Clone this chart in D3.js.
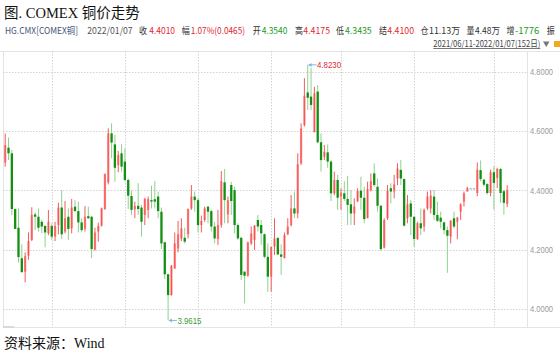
<!DOCTYPE html>
<html><head><meta charset="utf-8">
<script src="https://cdn.jsdelivr.net/npm/d3@7/dist/d3.min.js"></script>
<style>html,body{margin:0;padding:0;background:#fff;}svg{display:block;}</style>
</head><body>
<script>
// ---- data (COMEX copper daily OHLC, 2021/06/11 - 2022/01/07, 152 days) ----
const opens = [4.494,4.544,4.525,4.337,4.274,4.171,4.126,4.180,4.233,4.319,4.311,4.294,4.280,4.255,4.280,4.244,4.283,4.342,4.261,4.311,
4.272,4.345,4.330,4.292,4.270,4.313,4.311,4.200,4.261,4.281,4.337,4.427,4.592,4.555,4.485,4.525,4.497,4.435,4.381,4.336,
4.348,4.342,4.317,4.334,4.367,4.370,4.379,4.328,4.225,4.117,4.047,4.137,4.204,4.238,4.240,4.252,4.339,4.379,4.367,4.283,
4.300,4.345,4.330,4.278,4.236,4.283,4.427,4.319,4.418,4.401,4.283,4.240,4.126,4.112,4.221,4.233,4.300,4.283,4.252,4.176,
4.109,4.210,4.240,4.184,4.171,4.252,4.283,4.339,4.322,4.491,4.620,4.730,4.716,4.596,4.733,4.562,4.513,4.528,4.497,4.390,
4.435,4.379,4.390,4.371,4.353,4.322,4.362,4.399,4.375,4.306,4.401,4.457,4.412,4.348,4.207,4.306,4.407,4.396,4.440,4.469,
4.438,4.306,4.356,4.311,4.236,4.289,4.278,4.339,4.339,4.379,4.317,4.308,4.292,4.266,4.244,4.306,4.294,4.328,4.362,4.396,
4.405,4.405,4.391,4.468,4.436,4.421,4.391,4.461,4.442,4.472,4.397,4.354];
const highs = [4.592,4.578,4.536,4.339,4.339,4.218,4.191,4.258,4.343,4.326,4.339,4.300,4.283,4.334,4.289,4.294,4.358,4.401,4.364,4.339,
4.371,4.367,4.362,4.306,4.347,4.345,4.313,4.274,4.291,4.342,4.457,4.609,4.626,4.587,4.533,4.556,4.542,4.440,4.399,4.362,
4.424,4.351,4.375,4.379,4.416,4.431,4.396,4.342,4.227,4.119,4.148,4.258,4.297,4.306,4.274,4.339,4.418,4.396,4.375,4.315,
4.345,4.348,4.334,4.294,4.334,4.465,4.472,4.379,4.429,4.412,4.289,4.244,4.126,4.227,4.278,4.283,4.317,4.300,4.255,4.221,
4.210,4.306,4.240,4.218,4.258,4.306,4.384,4.396,4.525,4.626,4.778,4.823,4.813,4.749,4.755,4.592,4.553,4.555,4.502,4.463,
4.452,4.407,4.431,4.449,4.401,4.373,4.407,4.446,4.412,4.429,4.457,4.491,4.440,4.351,4.306,4.418,4.424,4.452,4.491,4.502,
4.440,4.384,4.367,4.311,4.294,4.339,4.339,4.396,4.401,4.401,4.362,4.328,4.294,4.278,4.300,4.328,4.311,4.356,4.396,4.412,
4.406,4.406,4.494,4.501,4.438,4.424,4.470,4.481,4.476,4.476,4.402,4.4175];
const lows = [4.480,4.502,4.317,4.270,4.157,4.124,4.090,4.166,4.229,4.266,4.261,4.255,4.208,4.249,4.233,4.229,4.252,4.236,4.255,4.233,
4.255,4.328,4.258,4.258,4.261,4.303,4.171,4.197,4.227,4.278,4.334,4.420,4.508,4.429,4.461,4.463,4.431,4.337,4.317,4.306,
4.317,4.244,4.283,4.306,4.339,4.339,4.306,4.202,4.101,3.9615,4.045,4.135,4.191,4.229,4.221,4.238,4.334,4.328,4.258,4.258,
4.294,4.289,4.261,4.221,4.216,4.274,4.289,4.289,4.317,4.255,4.233,4.098,4.019,4.109,4.216,4.199,4.261,4.216,4.171,4.058,
4.058,4.182,4.182,4.115,4.171,4.249,4.278,4.306,4.306,4.485,4.615,4.671,4.671,4.596,4.558,4.463,4.502,4.476,4.364,4.384,
4.334,4.334,4.364,4.283,4.283,4.283,4.362,4.334,4.289,4.306,4.396,4.412,4.328,4.196,4.204,4.300,4.356,4.373,4.418,4.418,
4.278,4.289,4.249,4.210,4.233,4.249,4.261,4.334,4.322,4.300,4.294,4.272,4.252,4.122,4.221,4.272,4.235,4.300,4.345,4.396,
4.404,4.404,4.380,4.430,4.413,4.386,4.380,4.335,4.408,4.358,4.318,4.3435];
const closes = [4.553,4.525,4.337,4.270,4.175,4.124,4.178,4.229,4.317,4.311,4.274,4.278,4.258,4.294,4.244,4.280,4.342,4.252,4.306,4.270,
4.342,4.330,4.292,4.266,4.311,4.306,4.202,4.258,4.280,4.339,4.455,4.592,4.561,4.476,4.519,4.480,4.435,4.382,4.334,4.347,
4.337,4.294,4.371,4.370,4.362,4.362,4.330,4.221,4.117,4.047,4.146,4.221,4.252,4.272,4.227,4.337,4.379,4.367,4.283,4.297,
4.339,4.328,4.278,4.238,4.283,4.431,4.367,4.367,4.364,4.283,4.238,4.115,4.112,4.225,4.255,4.281,4.278,4.255,4.176,4.109,
4.210,4.238,4.184,4.176,4.249,4.278,4.339,4.322,4.488,4.609,4.719,4.712,4.688,4.727,4.562,4.502,4.530,4.497,4.390,4.435,
4.375,4.392,4.371,4.351,4.322,4.345,4.398,4.375,4.303,4.404,4.431,4.418,4.348,4.202,4.300,4.398,4.396,4.420,4.474,4.440,
4.281,4.353,4.311,4.236,4.289,4.272,4.334,4.379,4.382,4.317,4.297,4.294,4.266,4.247,4.297,4.278,4.308,4.353,4.390,4.407,
4.405,4.405,4.470,4.438,4.419,4.391,4.461,4.425,4.472,4.391,4.358,4.401];
const monthStartIdx = [14, 36, 58, 80, 101, 123, 147]; // first trading day of Jul..Jan
const yTicks = [4.0, 4.2, 4.4, 4.6, 4.8];
const hiIdx = 91, hiLabel = "4.8230";
const loIdx = 49, loLabel = "3.9615";

const titleText = "图. COMEX 铜价走势";
const sourceText = "资料来源：Wind";
const rangeText = "2021/06/11-2022/01/07(152日)";
// header quote strip: [text, x, width, kind]
const header = [
  ["HG.CMX[COMEX铜]", 5, 73, "name"], ["2022/01/07", 87.3, 45.4, "date"],
  ["收", 139, 8, "lab"], ["4.4010", 149.3, 25.7, "up"],
  ["幅", 181.7, 8, "lab"], ["1.07%(0.0465)", 190.7, 54.3, "up"],
  ["开", 252.7, 8, "lab"], ["4.3540", 261.7, 25.6, "dn"],
  ["高", 295, 8, "lab"], ["4.4175", 303.3, 26.7, "up"],
  ["低", 336, 8, "lab"], ["4.3435", 345, 26.7, "dn"],
  ["结", 379, 8, "lab"], ["4.4100", 387.3, 26.7, "up"],
  ["仓", 420.5, 8, "lab"], ["11.13万", 429, 31, "lab"],
  ["量", 466.5, 8, "lab"], ["4.48万", 475, 25, "lab"],
  ["增", 506.5, 8, "lab"], ["-1776", 515, 24.3, "dn"],
  ["振", 546.7, 8, "lab"]
];

// ---- drawing ----
const W = 560, H = 356;
const plot = {left: 3, right: 527, top: 51, bottom: 327};
const svg = d3.select("body").append("svg").attr("width", W).attr("height", H);
svg.append("rect").attr("width", W).attr("height", H).attr("fill", "#fff");

const x = d3.scaleLinear().domain([0, opens.length - 1]).range([5.2, 507.2]);
const y = d3.scaleLinear().domain([4.0, 4.8]).range([309, 71.7]);

const UP = "#f04848", UPBODY = "#ff9090", DN = "#139013", DNWICK = "#8fd08f", FLAT = "#6fa3cf";
const sansCJK = "'Noto Sans CJK SC','Noto Sans',sans-serif";
const serifCJK = "'Liberation Serif','DejaVu Serif','Noto Sans CJK SC',serif";

// title
svg.append("text").attr("x", 4).attr("y", 18).attr("font-family", serifCJK)
  .attr("font-size", 14.5).attr("fill", "#111").text(titleText);

// header
const hColor = {name: "#3f5478", date: "#555", lab: "#333", up: "#e0282e", dn: "#1c9a1c"};
svg.append("g").selectAll("text").data(header).join("text")
  .attr("x", d => d[1]).attr("y", 34).attr("font-family", sansCJK).attr("font-size", 9.5)
  .attr("fill", d => hColor[d[3]]).attr("textLength", d => d[2]).attr("lengthAdjust", "spacingAndGlyphs")
  .text(d => d[0]);

// date range
svg.append("text").attr("x", 433.3).attr("y", 47).attr("font-family", sansCJK).attr("font-size", 9)
  .attr("fill", "#444").attr("textLength", 107).attr("lengthAdjust", "spacingAndGlyphs").text(rangeText);
svg.append("line").attr("x1", 433.3).attr("x2", 540.3).attr("y1", 48.5).attr("y2", 48.5)
  .attr("stroke", "#555").attr("stroke-width", 0.8);
svg.append("path").attr("d", "M543,41.5 L549.5,41.5 L546.25,47 Z").attr("fill", "#777");
svg.append("rect").attr("x", 554).attr("y", 41).attr("width", 6).attr("height", 6).attr("fill", "#f5a623");

// frame
const frame = svg.append("g").attr("stroke", "#e4e4e4").attr("stroke-width", 1).attr("shape-rendering", "crispEdges");
frame.append("line").attr("x1", 0).attr("x2", W).attr("y1", plot.top).attr("y2", plot.top);
frame.append("line").attr("x1", plot.left).attr("x2", plot.left).attr("y1", plot.top).attr("y2", plot.bottom);
frame.append("line").attr("x1", plot.right).attr("x2", plot.right).attr("y1", plot.top).attr("y2", plot.bottom);
frame.append("line").attr("x1", plot.left).attr("x2", W).attr("y1", plot.bottom).attr("y2", plot.bottom);
svg.append("rect").attr("x", 3).attr("y", 326).attr("width", 11).attr("height", 2).attr("fill", "#d8d8d8");

// grid
const grid = svg.append("g").attr("stroke", "#d2d2d2").attr("stroke-width", 1).attr("stroke-dasharray", "1.5,1.5");
grid.selectAll("line.h").data(yTicks).join("line").attr("class", "h")
  .attr("x1", plot.left).attr("x2", plot.right)
  .attr("y1", d => Math.round(y(d)) + 0.5).attr("y2", d => Math.round(y(d)) + 0.5);
grid.selectAll("line.v").data(monthStartIdx).join("line").attr("class", "v")
  .attr("y1", plot.top).attr("y2", plot.bottom)
  .attr("x1", d => Math.round(x(d)) + 0.5).attr("x2", d => Math.round(x(d)) + 0.5);

// y axis labels (right)
const yAxis = d3.axisRight(y).tickValues(yTicks).tickFormat(d3.format(".4f")).tickSize(0).tickPadding(0);
const ga = svg.append("g").attr("transform", `translate(${530},0)`).call(yAxis);
ga.select(".domain").remove();
ga.selectAll("text").attr("font-family", "'Liberation Sans',Arial,sans-serif").attr("font-size", 9)
  .attr("fill", "#9a9a9a").attr("textLength", 23).attr("lengthAdjust", "spacingAndGlyphs");

// candles
const candles = d3.range(opens.length).map(i => ({i, o: opens[i], h: highs[i], l: lows[i], c: closes[i]}));
const kind = d => (d.o === d.c && d.h - d.l < 0.005) ? "flat" : (d.c >= d.o ? "up" : "dn");
const bw = 2.3;
const g = svg.append("g");
// wicks behind for down candles
g.selectAll("line.wd").data(candles.filter(d => kind(d) === "dn")).join("line")
  .attr("x1", d => x(d.i)).attr("x2", d => x(d.i)).attr("y1", d => y(d.h)).attr("y2", d => y(d.l))
  .attr("stroke", DNWICK).attr("stroke-width", 1);
g.selectAll("rect.bd").data(candles.filter(d => kind(d) === "dn")).join("rect")
  .attr("x", d => x(d.i) - bw / 2).attr("width", bw)
  .attr("y", d => y(d.o)).attr("height", d => Math.max(1, y(d.c) - y(d.o)))
  .attr("fill", DN);
// up candles: pink body with red wick line through
g.selectAll("rect.bu").data(candles.filter(d => kind(d) === "up")).join("rect")
  .attr("x", d => x(d.i) - bw / 2).attr("width", bw)
  .attr("y", d => y(d.c)).attr("height", d => Math.max(1, y(d.o) - y(d.c)))
  .attr("fill", UPBODY);
g.selectAll("line.wu").data(candles.filter(d => kind(d) === "up")).join("line")
  .attr("x1", d => x(d.i)).attr("x2", d => x(d.i)).attr("y1", d => y(d.h)).attr("y2", d => y(d.l))
  .attr("stroke", UP).attr("stroke-width", 0.9);
// flat (holiday) candles
g.selectAll("rect.f").data(candles.filter(d => kind(d) === "flat")).join("rect")
  .attr("x", d => x(d.i) - bw / 2).attr("width", bw)
  .attr("y", d => y(d.c) - 0.5).attr("height", 1).attr("fill", FLAT);

// extreme markers
function marker(i, val, label, color) {
  const cx = x(i) + 0.8, cy = y(val);
  const m = svg.append("g");
  m.append("line").attr("x1", cx).attr("x2", cx + 8).attr("y1", cy).attr("y2", cy)
    .attr("stroke", "#7ab8e0").attr("stroke-width", 1);
  m.append("path").attr("d", `M${cx},${cy} L${cx + 3},${cy - 2} L${cx + 3},${cy + 2} Z`).attr("fill", "#7ab8e0");
  m.append("text").attr("x", cx + 8.5).attr("y", cy + 3.4).attr("font-family", "'Liberation Sans',Arial,sans-serif")
    .attr("font-size", 9.5).attr("fill", color).attr("textLength", 24).attr("lengthAdjust", "spacingAndGlyphs").text(label);
}
marker(hiIdx, highs[hiIdx], hiLabel, "#e0282e");
marker(loIdx, lows[loIdx], loLabel, "#3a9a3a");

// source
svg.append("text").attr("x", 4).attr("y", 348).attr("font-family", serifCJK)
  .attr("font-size", 14).attr("fill", "#111").text(sourceText);
</script>
</body></html>
